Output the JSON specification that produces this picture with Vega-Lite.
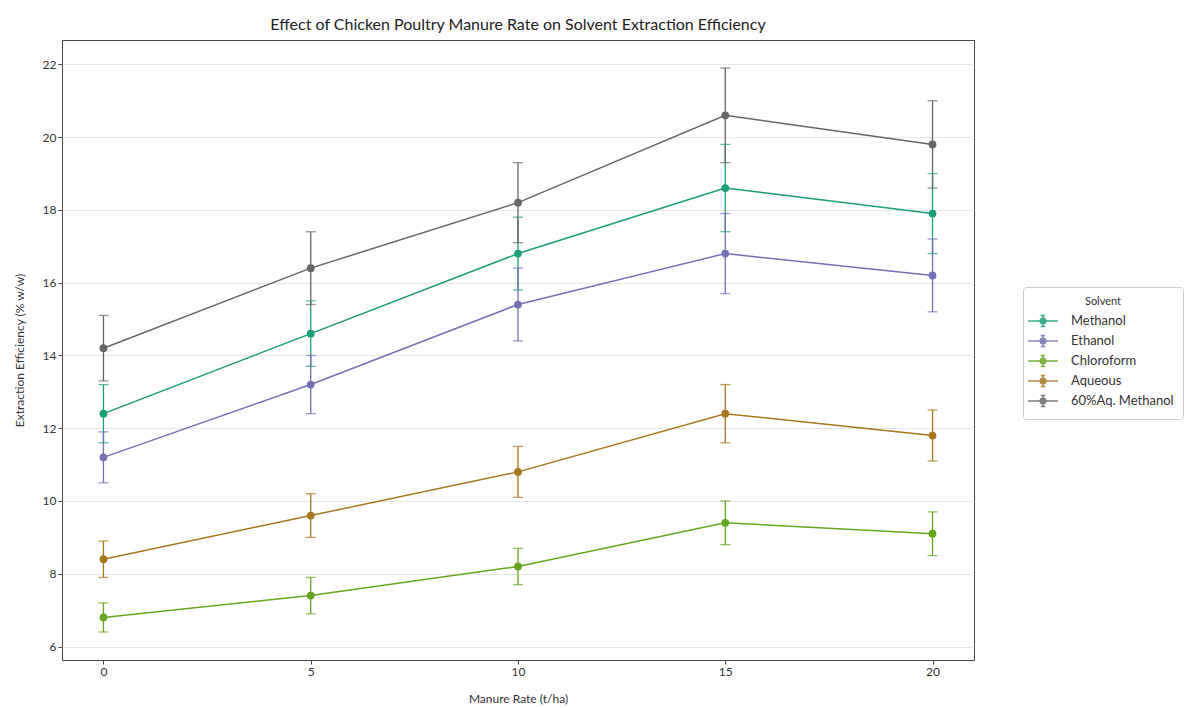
{
  "$schema": "https://vega.github.io/schema/vega-lite/v6.json",
  "autosize": {"type": "none"},
  "padding": {"left": 62, "top": 40, "right": 210, "bottom": 48},
  "width": 912,
  "height": 620,
  "background": "white",
  "title": {"text": "Effect of Chicken Poultry Manure Rate on Solvent Extraction Efficiency", "fontSize": 16, "font": "Lato", "fontWeight": "normal", "color": "#222", "anchor": "middle", "offset": 7},
  "config": {
    "font": "Lato",
    "view": {"stroke": "#444", "strokeWidth": 1},
    "axis": {"labelFont": "Lato", "titleFont": "Lato", "labelFontSize": 12, "titleFontSize": 12, "labelColor": "#333", "titleColor": "#333", "titleFontWeight": "normal", "tickColor": "#444", "tickSize": 4, "domain": false}
  },
  "data": {"values": [
    {"rate": 0, "solvent": "Methanol", "value": 12.4, "lo": 11.6, "hi": 13.2},
    {"rate": 5, "solvent": "Methanol", "value": 14.6, "lo": 13.7, "hi": 15.5},
    {"rate": 10, "solvent": "Methanol", "value": 16.8, "lo": 15.8, "hi": 17.8},
    {"rate": 15, "solvent": "Methanol", "value": 18.6, "lo": 17.4, "hi": 19.8},
    {"rate": 20, "solvent": "Methanol", "value": 17.9, "lo": 16.8, "hi": 19.0},
    {"rate": 0, "solvent": "Ethanol", "value": 11.2, "lo": 10.5, "hi": 11.9},
    {"rate": 5, "solvent": "Ethanol", "value": 13.2, "lo": 12.4, "hi": 14.0},
    {"rate": 10, "solvent": "Ethanol", "value": 15.4, "lo": 14.4, "hi": 16.4},
    {"rate": 15, "solvent": "Ethanol", "value": 16.8, "lo": 15.7, "hi": 17.9},
    {"rate": 20, "solvent": "Ethanol", "value": 16.2, "lo": 15.2, "hi": 17.2},
    {"rate": 0, "solvent": "Chloroform", "value": 6.8, "lo": 6.4, "hi": 7.2},
    {"rate": 5, "solvent": "Chloroform", "value": 7.4, "lo": 6.9, "hi": 7.9},
    {"rate": 10, "solvent": "Chloroform", "value": 8.2, "lo": 7.7, "hi": 8.7},
    {"rate": 15, "solvent": "Chloroform", "value": 9.4, "lo": 8.8, "hi": 10.0},
    {"rate": 20, "solvent": "Chloroform", "value": 9.1, "lo": 8.5, "hi": 9.7},
    {"rate": 0, "solvent": "Aqueous", "value": 8.4, "lo": 7.9, "hi": 8.9},
    {"rate": 5, "solvent": "Aqueous", "value": 9.6, "lo": 9.0, "hi": 10.2},
    {"rate": 10, "solvent": "Aqueous", "value": 10.8, "lo": 10.1, "hi": 11.5},
    {"rate": 15, "solvent": "Aqueous", "value": 12.4, "lo": 11.6, "hi": 13.2},
    {"rate": 20, "solvent": "Aqueous", "value": 11.8, "lo": 11.1, "hi": 12.5},
    {"rate": 0, "solvent": "60%Aq. Methanol", "value": 14.2, "lo": 13.3, "hi": 15.1},
    {"rate": 5, "solvent": "60%Aq. Methanol", "value": 16.4, "lo": 15.4, "hi": 17.4},
    {"rate": 10, "solvent": "60%Aq. Methanol", "value": 18.2, "lo": 17.1, "hi": 19.3},
    {"rate": 15, "solvent": "60%Aq. Methanol", "value": 20.6, "lo": 19.3, "hi": 21.9},
    {"rate": 20, "solvent": "60%Aq. Methanol", "value": 19.8, "lo": 18.6, "hi": 21.0}
  ]},
  "encoding": {
    "x": {"field": "rate", "type": "quantitative", "scale": {"domain": [-1, 21], "nice": false, "zero": false}, "axis": {"values": [0, 5, 10, 15, 20], "grid": false, "title": "Manure Rate (t/ha)", "titlePadding": 16}},
    "color": {"field": "solvent", "type": "nominal", "scale": {"domain": ["Methanol", "Ethanol", "Chloroform", "Aqueous", "60%Aq. Methanol"], "range": ["#1b9e77", "#7570b3", "#66a61e", "#a6761d", "#666666"]},
      "legend": {"title": "Solvent", "orient": "none", "legendX": 961, "legendY": 247, "titleAnchor": "middle", "titleFontSize": 11, "titleFontWeight": "normal", "titleColor": "#333", "titlePadding": 3, "labelFontSize": 13, "labelColor": "#333", "labelOffset": 17, "strokeColor": "#ccc", "cornerRadius": 3, "padding": 9, "fillColor": "white", "symbolType": "M-1.5,0H1.5M0,-0.55V0.55M-0.22,-0.55H0.22M-0.22,0.55H0.22M-0.28,0A0.28,0.28 0 1,0 0.28,0A0.28,0.28 0 1,0 -0.28,0Z", "symbolSize": 400, "symbolStrokeWidth": 1.5, "symbolOpacity": 0.85, "rowPadding": 0}}
  },
  "layer": [
    {"mark": {"type": "rule", "strokeWidth": 1.3}, "encoding": {"y": {"field": "lo", "type": "quantitative"}, "y2": {"field": "hi"}}},
    {"mark": {"type": "tick", "orient": "horizontal", "size": 10, "thickness": 1.3}, "encoding": {"y": {"field": "lo", "type": "quantitative"}}},
    {"mark": {"type": "tick", "orient": "horizontal", "size": 10, "thickness": 1.3}, "encoding": {"y": {"field": "hi", "type": "quantitative"}}},
    {"mark": {"type": "line", "strokeWidth": 1.5}, "encoding": {"y": {"field": "value", "type": "quantitative"}}},
    {"mark": {"type": "point", "filled": true, "size": 60, "opacity": 1}, "encoding": {"y": {"field": "value", "type": "quantitative", "scale": {"domain": [5.63, 22.67], "nice": false, "zero": false}, "axis": {"values": [6, 8, 10, 12, 14, 16, 18, 20, 22], "grid": true, "gridColor": "#e6e6e6", "gridWidth": 1, "title": "Extraction Efficiency (% w/w)", "titlePadding": 16}}}}
  ]
}
